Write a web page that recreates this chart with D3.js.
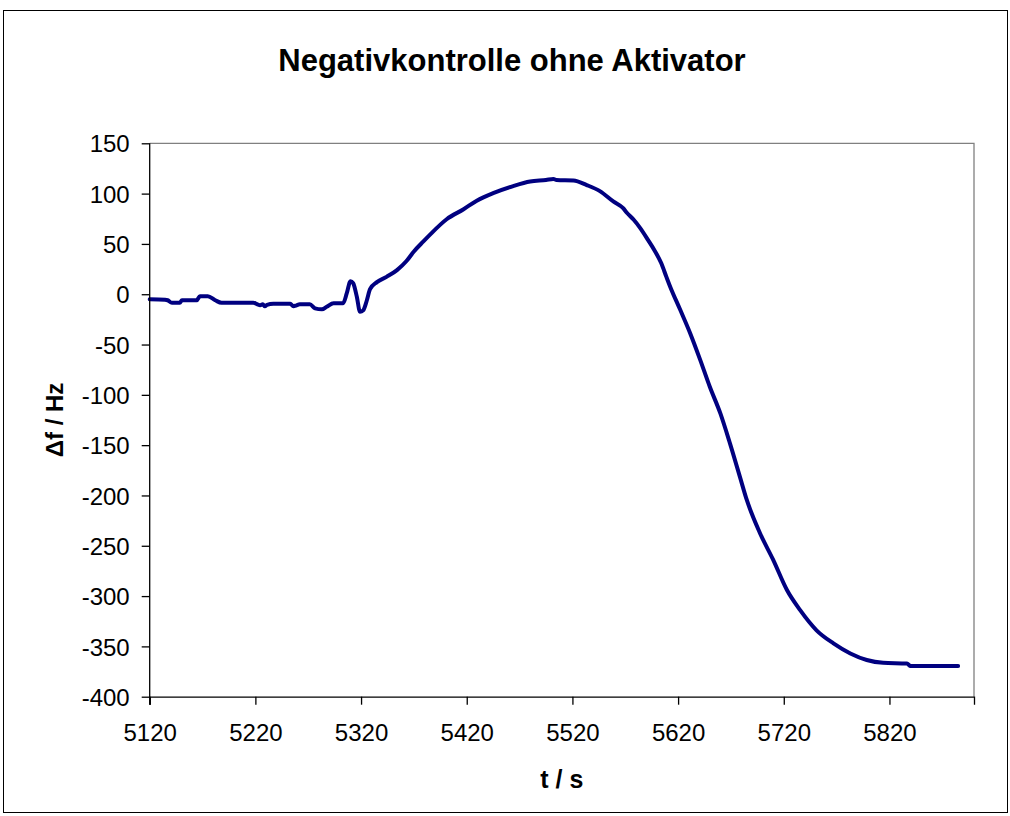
<!DOCTYPE html>
<html>
<head>
<meta charset="utf-8">
<script src="https://cdn.jsdelivr.net/npm/d3@7"></script>
<style>
  body { margin: 0; background: #fff; }
  text { font-family: "Liberation Sans", Arial, sans-serif; }
</style>
</head>
<body>
<div id="chart-container"></div>
<script>
const tSec = [5120, 5134.5, 5137, 5141, 5148.5, 5150.5, 5164.5, 5167.5, 5175, 5182, 5188, 5218, 5222, 5224.5, 5227, 5229, 5231, 5237, 5253, 5256, 5259, 5262, 5271.5, 5276.5, 5283, 5287.5, 5294, 5303, 5306.5, 5310, 5312.5, 5316, 5319, 5322, 5325.5, 5328.5, 5335, 5344.5, 5354, 5363, 5370, 5379, 5386, 5401, 5417, 5429.5, 5445, 5464, 5480, 5495, 5502, 5505, 5521, 5533.5, 5546, 5559, 5568, 5571.5, 5578, 5584, 5591.5, 5598, 5604, 5609, 5612.5, 5622, 5631.5, 5641, 5650, 5660, 5669, 5678.5, 5685, 5697.5, 5710, 5723, 5735.5, 5751, 5767, 5783, 5798.5, 5814, 5836.5, 5840, 5885];
const dfHz = [-5, -5.5, -6, -8.5, -8.5, -6, -6, -2, -2, -6, -8.5, -8.5, -10, -11, -10, -12, -10.5, -9.5, -9.5, -12, -11, -10, -10, -14, -15, -12.5, -9, -9, 1, 13, 11, -2.5, -17.5, -16, -6, 5, 12, 17.5, 24, 33, 42.5, 52.5, 60, 74.5, 84.5, 93, 100.5, 107.5, 112, 113.5, 114.5, 113.5, 113, 108.5, 102.5, 92, 85.5, 81, 74, 66, 54, 43, 31, 17, 7.5, -15.5, -39, -65.5, -92, -118.5, -148, -181.5, -204.5, -237.5, -264, -294, -314, -334, -347, -357, -363.5, -366.3, -367, -369.5, -369.5];

const xTicks = [5120, 5220, 5320, 5420, 5520, 5620, 5720, 5820];
const yTicks = [150, 100, 50, 0, -50, -100, -150, -200, -250, -300, -350, -400];

const width = 1010;
const height = 816;
const plot = { left: 149.7, right: 974, top: 143.3, bottom: 696.7 };

const svg = d3.select('#chart-container')
  .append('svg')
  .attr('width', width)
  .attr('height', height);

// Rahmen des Diagrammbereichs
svg.append('rect')
  .attr('x', 3.5)
  .attr('y', 10.5)
  .attr('width', 1004)
  .attr('height', 802)
  .attr('fill', '#fff')
  .attr('stroke', '#000')
  .attr('stroke-width', 1);

const x = d3.scaleLinear()
  .domain([5120, 5900])
  .range([plot.left, plot.right]);

const y = d3.scaleLinear()
  .domain([-400, 150])
  .range([plot.bottom, plot.top]);

// Zeichenfläche: oben und rechts grau
svg.append('path')
  .attr('d', `M${plot.left},${plot.top}H${plot.right}V${plot.bottom}`)
  .attr('fill', 'none')
  .attr('stroke', '#808080')
  .attr('stroke-width', 1.3);

// Kurve
const data = tSec.map((t, i) => ({ t, v: dfHz[i] }));
const line = d3.line()
  .curve(d3.curveMonotoneX)
  .x(d => x(d.t))
  .y(d => y(d.v));

svg.append('path')
  .datum(data)
  .attr('d', line)
  .attr('fill', 'none')
  .attr('stroke', '#000080')
  .attr('stroke-width', 4)
  .attr('stroke-linejoin', 'round')
  .attr('stroke-linecap', 'round');

// X-Achse
const xAxis = svg.append('g')
  .attr('transform', `translate(0, ${plot.bottom})`)
  .call(d3.axisBottom(x).tickValues(xTicks).tickSize(8).tickPadding(19).tickFormat(d => String(d)));

// Y-Achse (Bindestrich statt Minuszeichen wie im Original)
const yAxis = svg.append('g')
  .attr('transform', `translate(${plot.left}, 0)`)
  .call(d3.axisLeft(y).tickValues(yTicks).tickSize(8).tickPadding(12).tickFormat(d => String(d)));

[xAxis, yAxis].forEach(ax => {
  ax.select('.domain').attr('stroke', '#000').attr('stroke-width', 1.3);
  ax.selectAll('.tick line').attr('stroke', '#000').attr('stroke-width', 1.3);
  ax.selectAll('.tick text')
    .attr('fill', '#000')
    .style('font-family', '"Liberation Sans", Arial, sans-serif')
    .style('font-size', '24px');
});
yAxis.select('.domain').attr('d', `M0,${plot.top}V${plot.bottom + 8}`);
yAxis.selectAll('.tick text').attr('dy', '0.36em');

// Titel
svg.append('text')
  .attr('x', 512)
  .attr('y', 71)
  .attr('text-anchor', 'middle')
  .style('font-size', '31px')
  .style('font-weight', 'bold')
  .text('Negativkontrolle ohne Aktivator');

// Achsentitel
svg.append('text')
  .attr('x', (plot.left + plot.right) / 2)
  .attr('y', 788)
  .attr('text-anchor', 'middle')
  .style('font-size', '25px')
  .style('font-weight', 'bold')
  .text('t / s');

svg.append('text')
  .attr('transform', `translate(63, ${(plot.top + plot.bottom) / 2}) rotate(-90)`)
  .attr('text-anchor', 'middle')
  .style('font-size', '24px')
  .style('font-weight', 'bold')
  .text('Δf / Hz');
</script>
</body>
</html>
